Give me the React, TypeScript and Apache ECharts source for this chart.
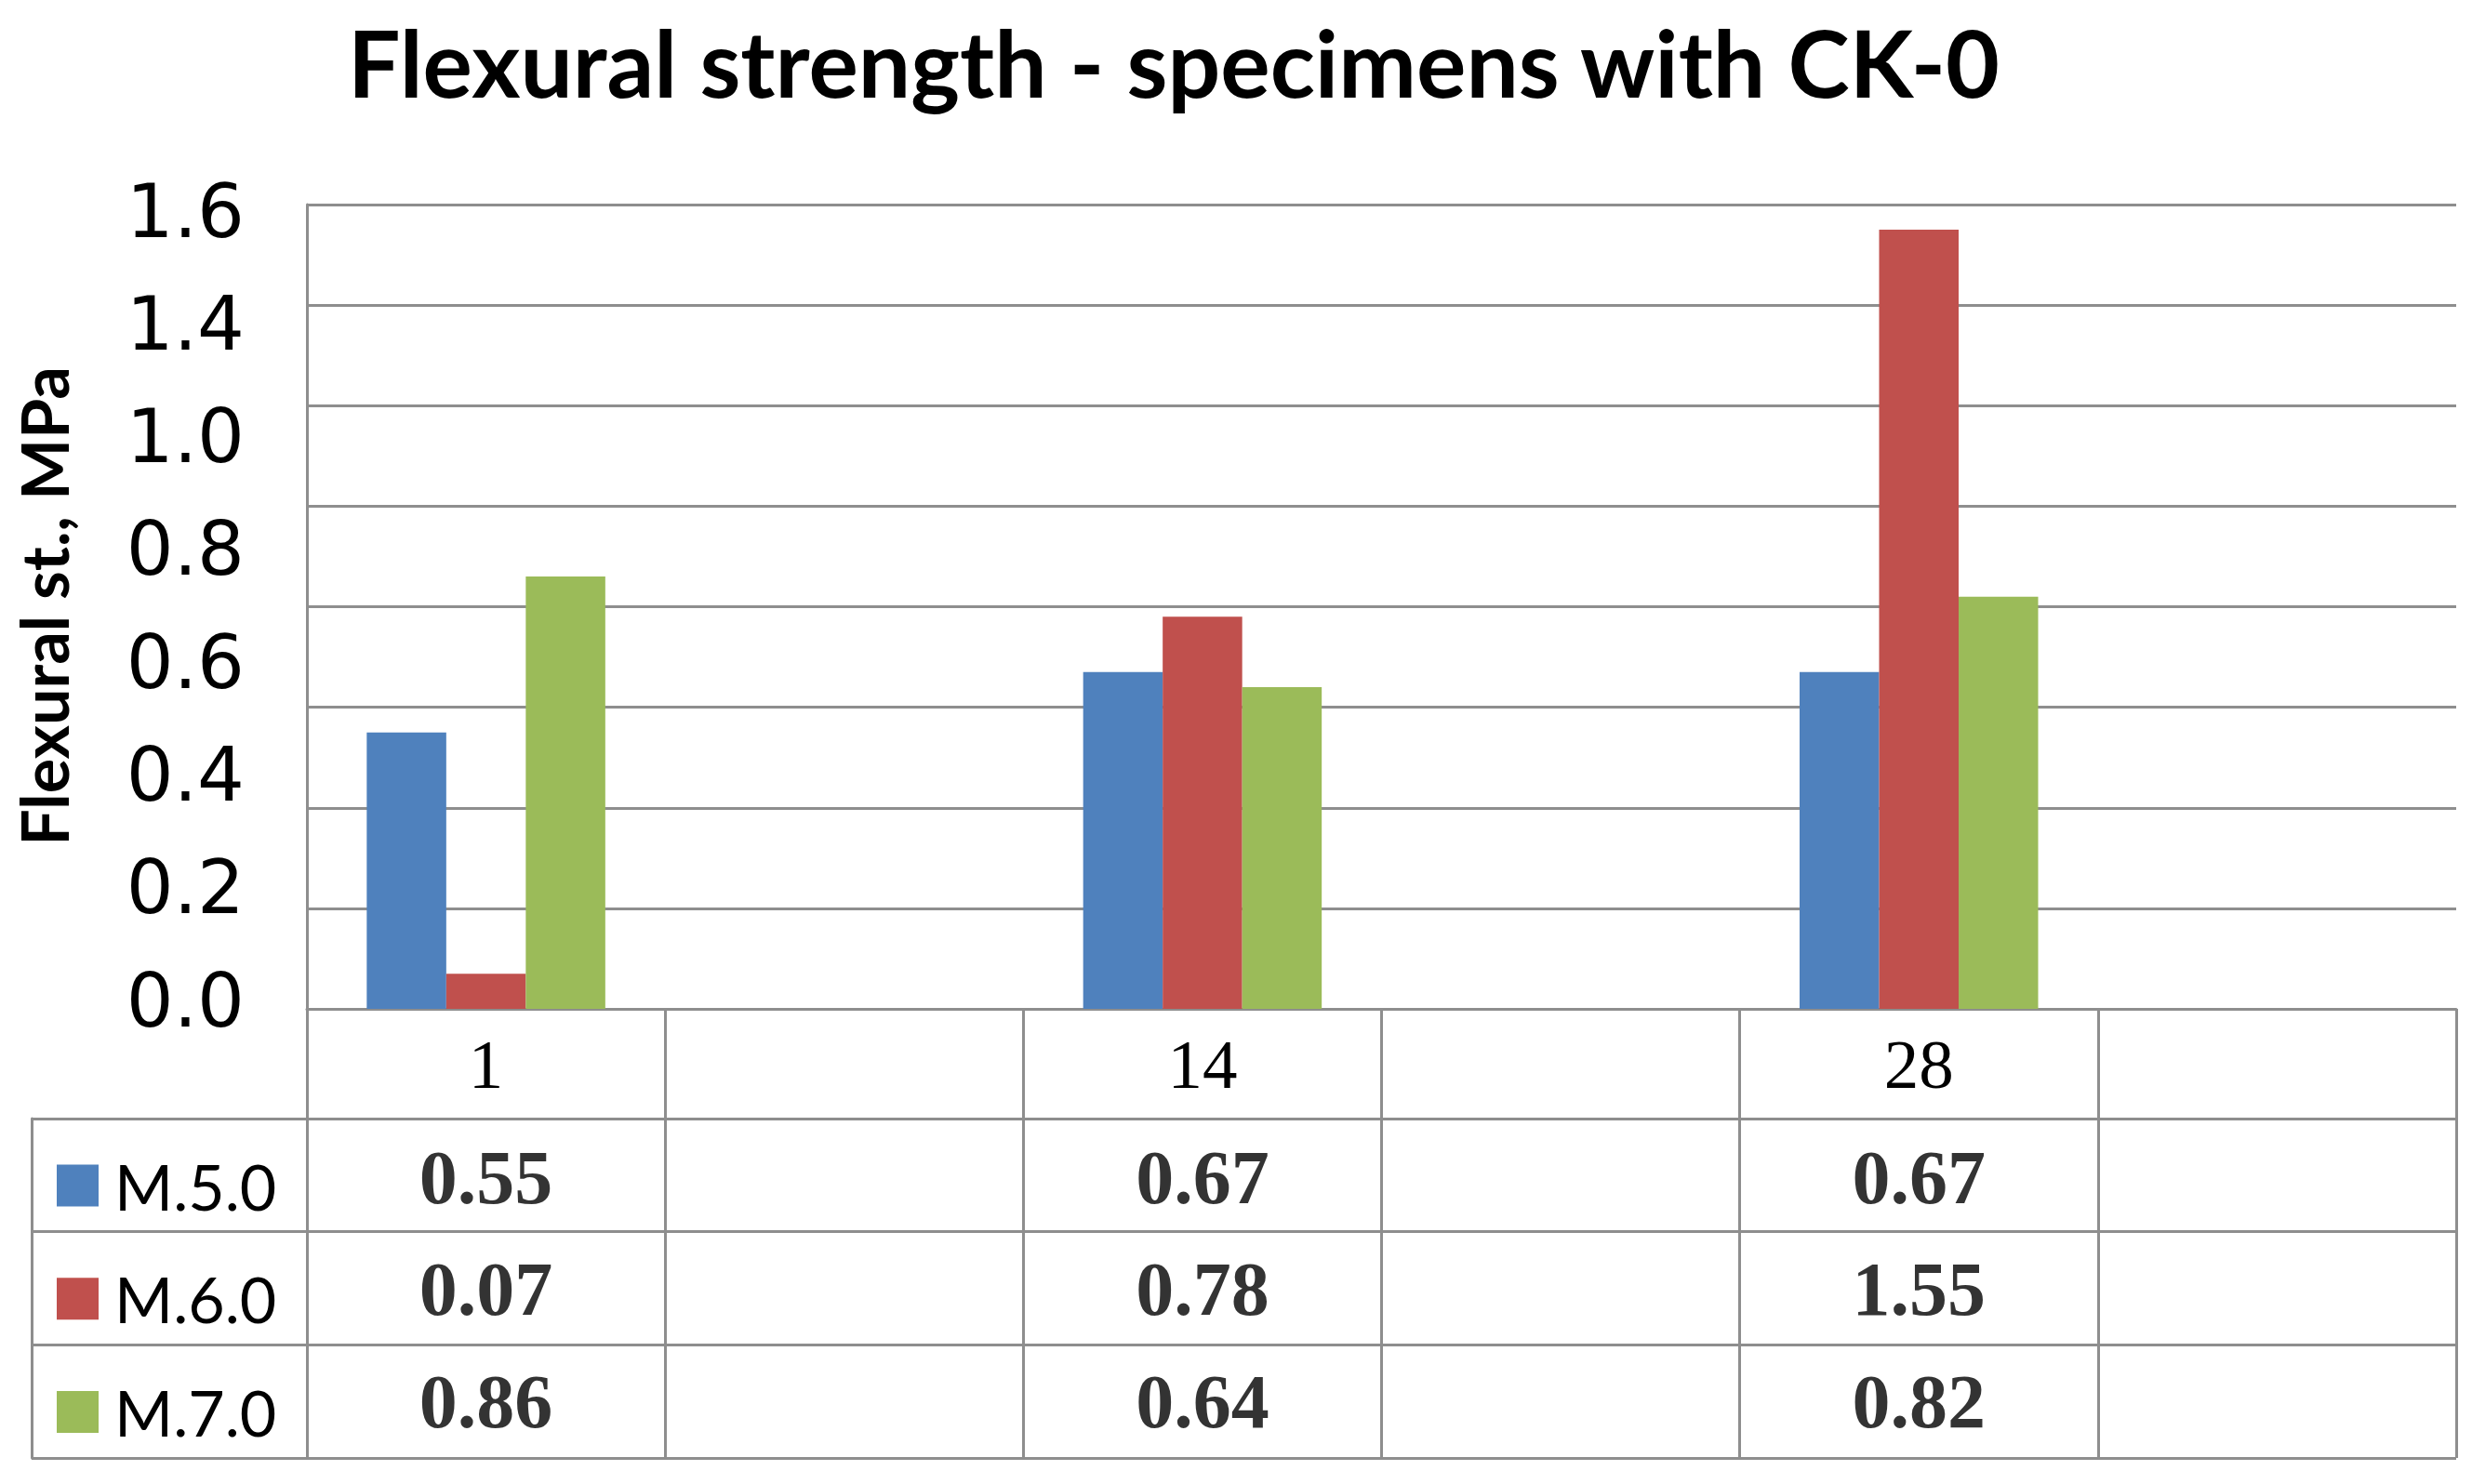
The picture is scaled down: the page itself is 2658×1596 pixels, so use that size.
import React, { useEffect, useRef } from 'react';
import * as echarts from 'echarts';

const titleText = 'Flexural strength - specimens with CK-0';
const yAxisTitle = 'Flexural st., MPa';
const days = ['1', '14', '28'];
const columns = ['1', ' ', '14', '  ', '28', '   '];
const seriesNames = ['M.5.0', 'M.6.0', 'M.7.0'];
const m50 = [0.55, 0.67, 0.67];
const m60 = [0.07, 0.78, 1.55];
const m70 = [0.86, 0.64, 0.82];
const seriesValues = [m50, m60, m70];
const colors = ['#4F81BD', '#C0504D', '#9BBB59'];
const yTickLabels = ['0.0', '0.2', '0.4', '0.6', '0.8', '1.0', '1.4', '1.6'];
const tableRows = ['header', ...seriesNames];

const GRID = '#8e8e8e';

function toColumns(vals: number[]) {
  return columns.map((c, j) => (j % 2 === 0 ? vals[j / 2] : null));
}

export default function App() {
  const ref = useRef<HTMLDivElement>(null);
  useEffect(() => {
    if (!ref.current) return;
    const chart = echarts.init(ref.current, undefined, { renderer: 'svg' });

    const tableData: any[] = [];
    seriesValues.forEach((vals, s) => {
      vals.forEach((v, d) => {
        tableData.push([columns[d * 2], seriesNames[s], v]);
      });
    });

    const legends = seriesNames.map((name, i) => ({
      data: [name],
      orient: 'horizontal',
      left: 61,
      top: 1241 + i * 121.7,
      padding: 0,
      itemWidth: 45,
      itemHeight: 45,
      icon: 'rect',
      textStyle: {
        fontFamily: 'Lato',
        fontSize: 68,
        color: '#000',
        padding: [0, 0, 0, 12],
      },
    }));

    const option: any = {
      animation: false,
      backgroundColor: '#ffffff',
      grid: [
        { left: 330, right: 17, top: 220, bottom: 511 },
        { left: 330, right: 17, top: 227, bottom: 520 },
        { left: 330, right: 17, top: 1085, bottom: 28 },
        { left: 34, right: 17, top: 1203, bottom: 28 },
      ],
      xAxis: [
        {
          gridIndex: 0,
          type: 'category',
          data: columns,
          axisLine: { show: true, lineStyle: { color: GRID, width: 3 } },
          axisTick: { show: false },
          axisLabel: {
            show: true,
            interval: 0,
            margin: 59,
            verticalAlign: 'middle',
            fontFamily: 'Liberation Serif',
            fontSize: 75,
            color: '#000',
          },
          splitLine: { show: false },
        },
        { gridIndex: 1, type: 'category', data: columns, show: false },
        {
          gridIndex: 2,
          type: 'category',
          data: columns,
          axisLine: { show: false },
          axisTick: { show: false },
          axisLabel: { show: false },
          splitLine: { show: true, interval: 0, lineStyle: { color: GRID, width: 3 } },
        },
        { gridIndex: 3, type: 'value', min: 0, max: 1, show: false },
      ],
      yAxis: [
        {
          gridIndex: 0,
          type: 'value',
          min: 0,
          max: 1.6,
          interval: 0.2,
          axisLine: { show: true, lineStyle: { color: GRID, width: 3 } },
          axisTick: { show: false },
          axisLabel: { show: false },
          splitLine: { show: true, lineStyle: { color: GRID, width: 3 } },
        },
        {
          gridIndex: 1,
          type: 'value',
          min: 0,
          max: 7,
          interval: 1,
          axisLine: { show: false },
          axisTick: { show: false },
          splitLine: { show: false },
          axisLabel: {
            show: true,
            margin: 67,
            formatter: (v: number) => yTickLabels[Math.round(v)] ?? '',
            fontFamily: 'DejaVu Sans',
            fontSize: 80,
            color: '#000',
          },
        },
        {
          gridIndex: 2,
          type: 'category',
          data: tableRows,
          inverse: true,
          show: false,
        },
        {
          gridIndex: 3,
          type: 'category',
          data: seriesNames,
          inverse: true,
          axisLine: { show: true, onZero: false, lineStyle: { color: GRID, width: 3 } },
          axisTick: { show: false },
          axisLabel: { show: false },
          splitLine: { show: true, interval: 0, lineStyle: { color: GRID, width: 3 } },
        },
      ],
      legend: legends,
      graphic: [
        {
          type: 'text',
          x: 1262,
          y: 66,
          style: {
            text: titleText,
            fontFamily: 'Lato',
            fontWeight: 'bold',
            fontSize: 100,
            fill: '#000',
            textAlign: 'center',
            textVerticalAlign: 'middle',
          },
        },
        {
          type: 'text',
          x: 47,
          y: 652,
          rotation: Math.PI / 2,
          style: {
            text: yAxisTitle,
            fontFamily: 'Lato',
            fontWeight: 'bold',
            fontSize: 70,
            fill: '#000',
            textAlign: 'center',
            textVerticalAlign: 'middle',
          },
        },
      ],
      series: [
        ...seriesNames.map((name, i) => ({
          name,
          type: 'bar',
          xAxisIndex: 0,
          yAxisIndex: 0,
          data: toColumns(seriesValues[i]),
          barWidth: 85.5,
          barGap: '0%',
          itemStyle: { color: colors[i] },
        })),
        {
          name: 'table',
          type: 'scatter',
          xAxisIndex: 2,
          yAxisIndex: 2,
          data: tableData,
          symbolSize: 1,
          itemStyle: { color: 'rgba(0,0,0,0)' },
          label: {
            show: true,
            position: 'inside',
            formatter: (p: any) => Number(p.value[2]).toFixed(2),
            fontFamily: 'Liberation Serif',
            fontWeight: 'bold',
            fontSize: 82,
            color: '#000',
          },
          silent: true,
        },
      ],
    };
    chart.setOption(option);
    return () => chart.dispose();
  }, []);

  return (
    <div
      ref={ref}
      style={{ position: 'absolute', left: 0, top: 0, width: 2658, height: 1596, background: '#fff' }}
    />
  );
}
